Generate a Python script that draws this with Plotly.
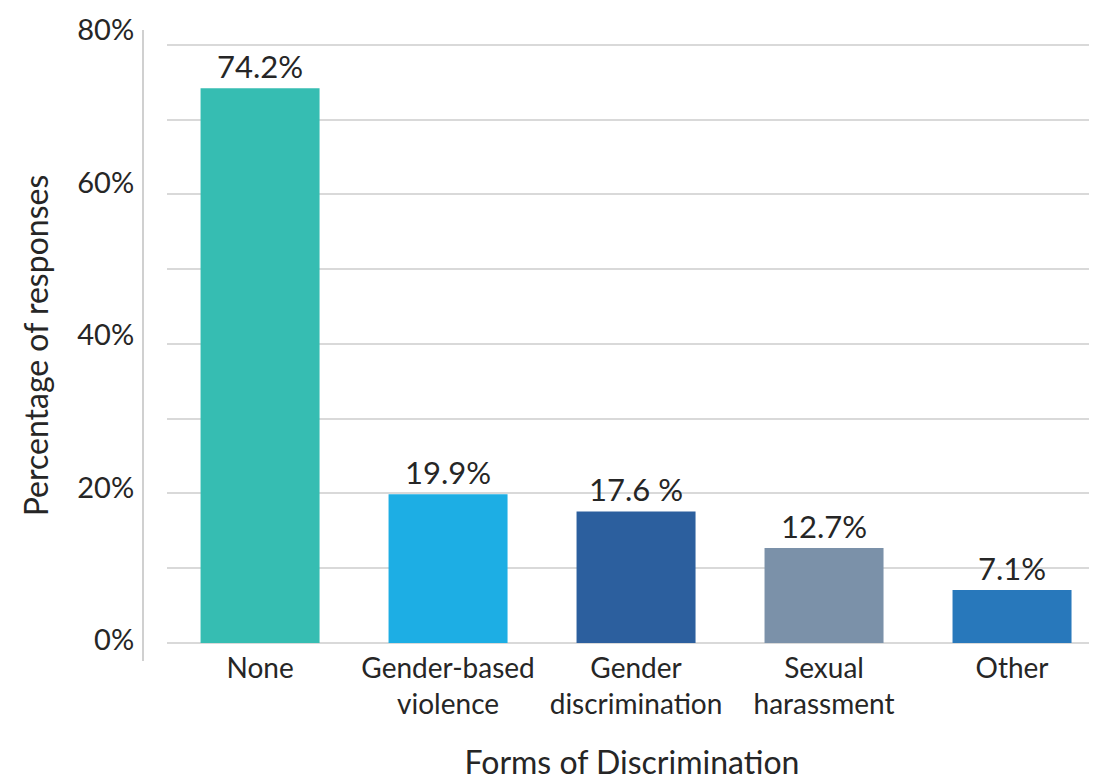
import plotly.graph_objects as go

categories = ["None", "Gender-based<br>violence", "Gender<br>discrimination", "Sexual<br>harassment", "Other"]
values = [74.2, 19.9, 17.6, 12.7, 7.1]
value_labels = ["74.2%", "19.9%", "17.6 %", "12.7%", "7.1%"]
colors = ["#36BDB2", "#1DAEE4", "#2C5F9E", "#7B91A9", "#2878BB"]
y_tick_vals = [0, 20, 40, 60, 80]
y_tick_text = ["0%", "20%", "40%", "60%", "80%"]

# the page body has an 8px default margin, so the figure is sized to fit the window
W, H = 1089, 773
ML, MR, MT, MB = 100, 0, 22, 120
PW = W - ML - MR
FONT = "Lato"
TXT = "#262626"

fig = go.Figure()
fig.add_trace(go.Bar(
    x=categories, y=values, marker=dict(color=colors, line=dict(width=0)),
    width=0.633, text=value_labels, textposition="outside", cliponaxis=False,
    textfont=dict(family=FONT, size=31, color=TXT), hoverinfo="skip", showlegend=False,
))
# helper trace so the label axis is drawn
fig.add_trace(go.Scatter(x=categories, y=values, yaxis="y2", mode="none",
                         hoverinfo="skip", showlegend=False))

fig.update_layout(
    width=W, height=H,
    margin=dict(l=ML, r=MR, t=MT, b=MB, autoexpand=False),
    plot_bgcolor="white", paper_bgcolor="white",
    font=dict(family=FONT, color=TXT),
    xaxis=dict(
        domain=[(159 - ML) / PW, 1], range=[-0.495, 4.452], automargin=False,
        showline=False, showgrid=False, ticks="", ticklabelstandoff=-12,
        tickfont=dict(family=FONT, size=28, color=TXT),
        title=dict(text="Forms of Discrimination", font=dict(family=FONT, size=32, color=TXT), standoff=39),
    ),
    yaxis=dict(
        range=[-2.41, 82.0], dtick=10, tick0=0, automargin=False,
        showgrid=True, gridcolor="#D9D9D9", gridwidth=1.5,
        zeroline=True, zerolinecolor="#D9D9D9", zerolinewidth=1.5,
        showticklabels=False, ticks="", showline=False,
    ),
    yaxis2=dict(
        overlaying="y", anchor="free", position=(135 - ML) / PW, side="left", automargin=False,
        range=[-2.754, 80.001], tickvals=y_tick_vals, ticktext=y_tick_text,
        showgrid=False, zeroline=False, showline=True, linecolor="#D0D0D0", linewidth=2,
        ticks="", ticklabelstandoff=2,
        tickfont=dict(family=FONT, size=29, color=TXT),
        title=dict(text="Percentage of responses", font=dict(family=FONT, size=32, color=TXT), standoff=18),
    ),
)

fig.write_html("out.html")
